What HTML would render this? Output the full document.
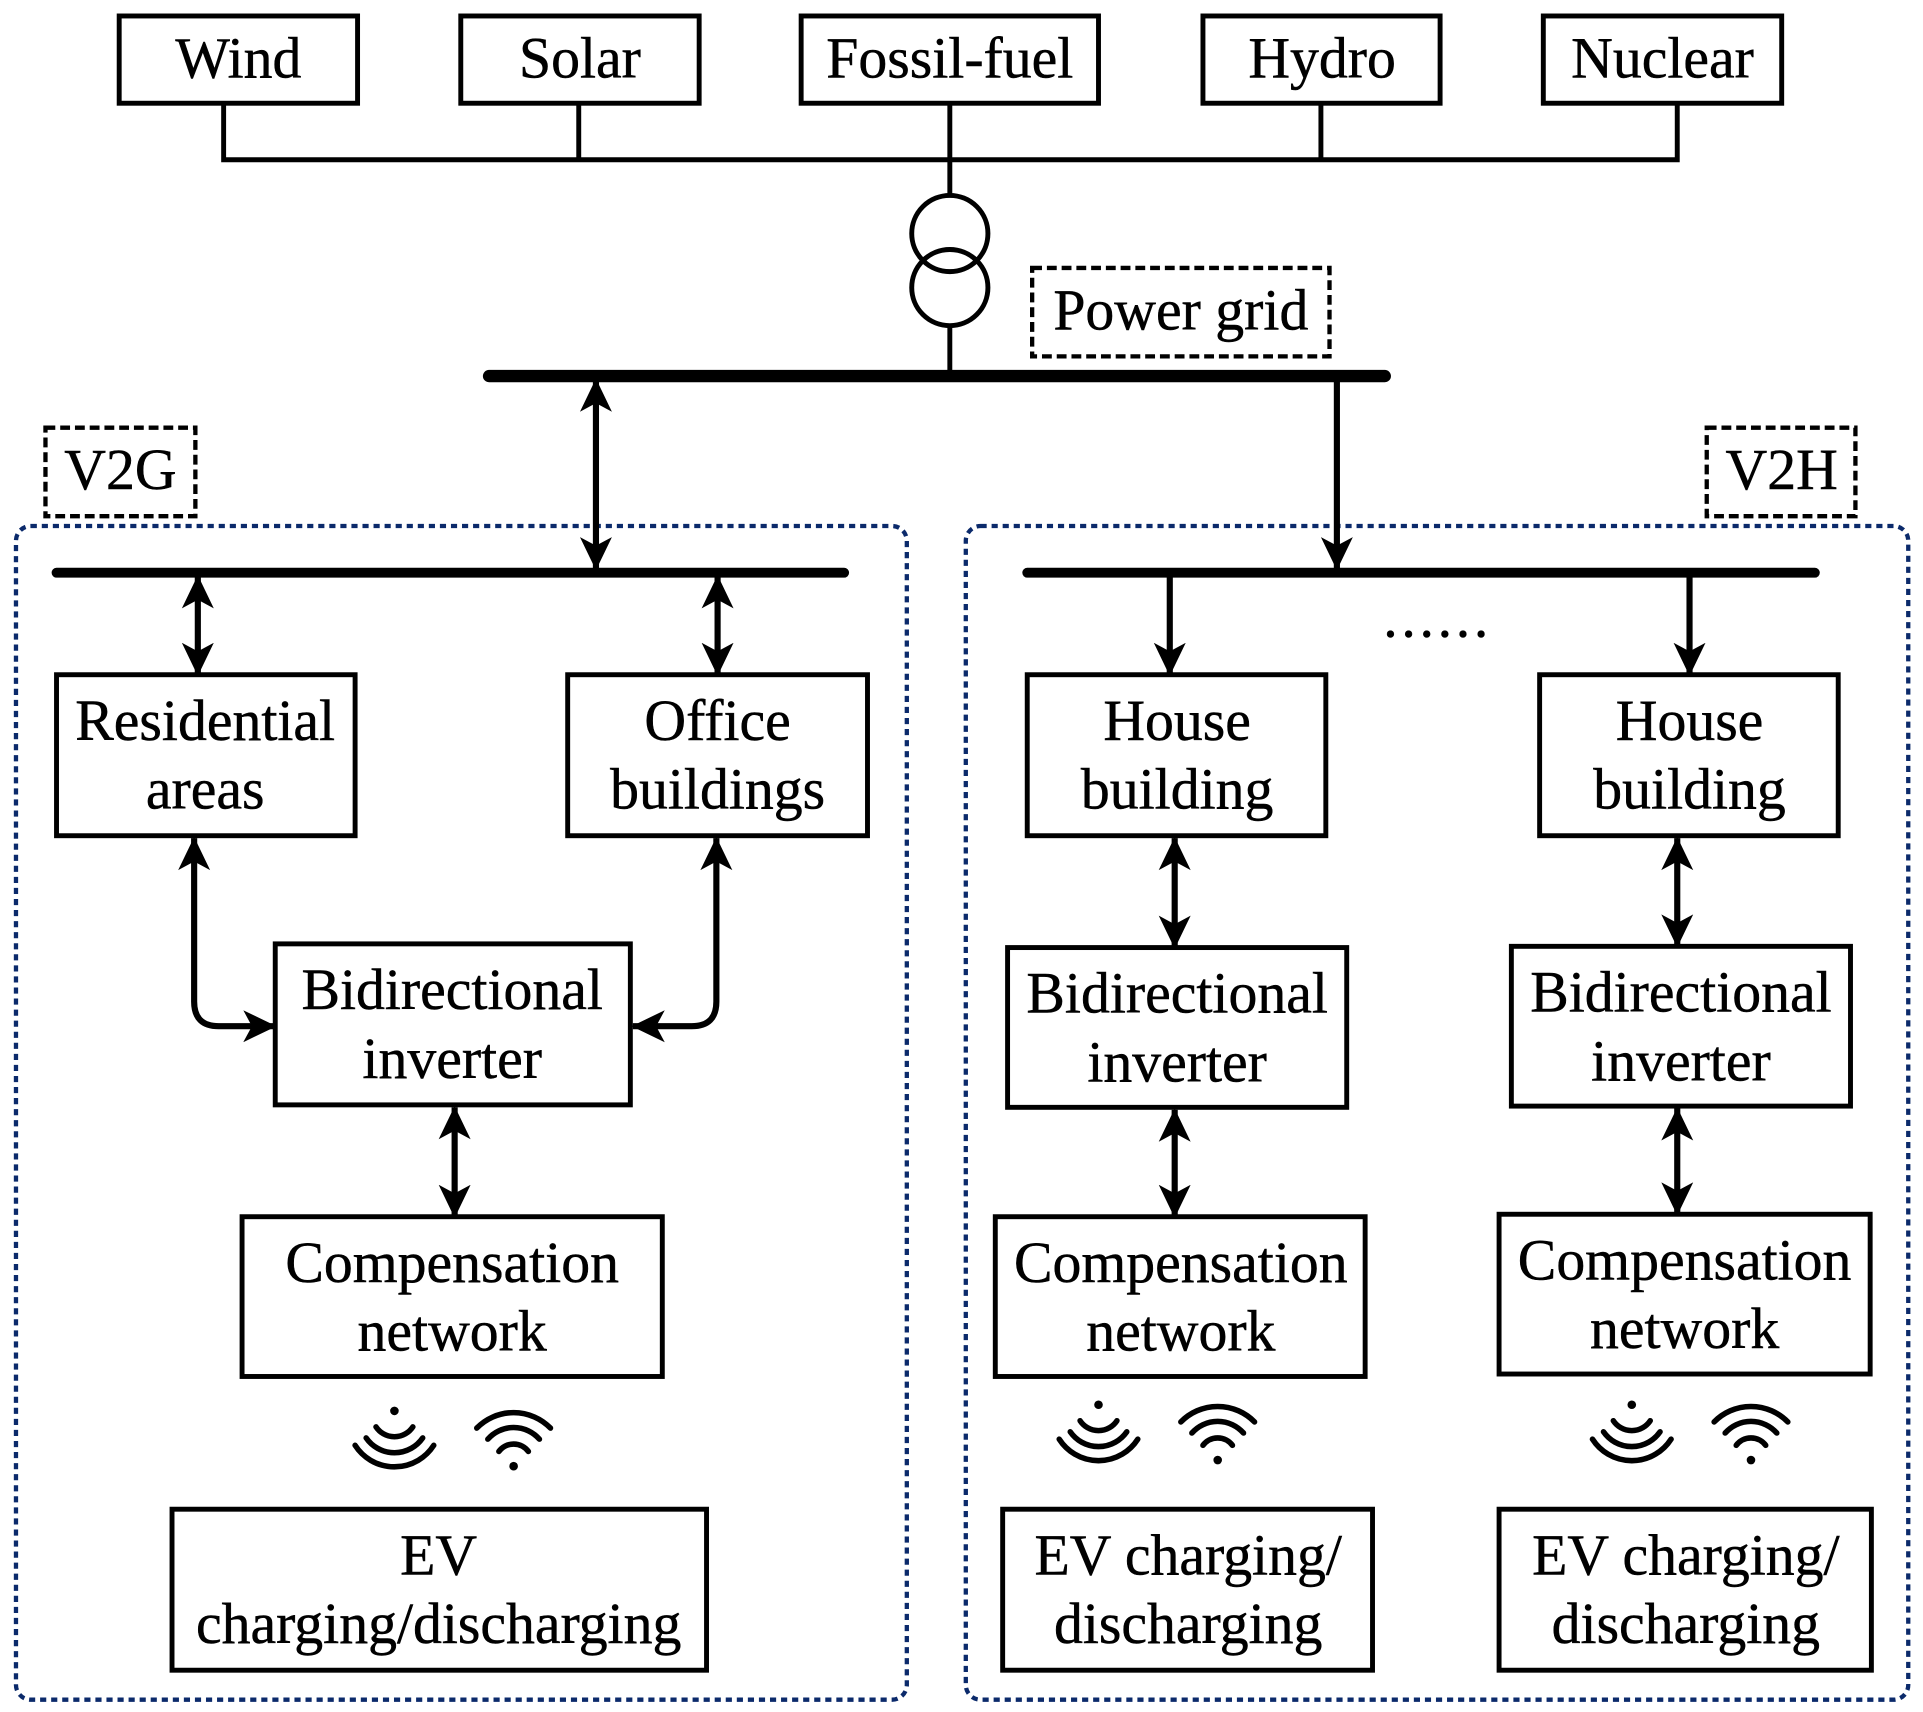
<!DOCTYPE html>
<html><head><meta charset="utf-8"><style>
html,body{margin:0;padding:0;background:#fff;}
svg{display:block}
text{font-family:"Liberation Serif","Times New Roman",serif;font-size:47px;fill:#000;text-anchor:middle;stroke:#000;stroke-width:0.4px}
</style></head><body>
<svg width="1923" height="1712" viewBox="0 0 1565 1393" preserveAspectRatio="none" xmlns="http://www.w3.org/2000/svg">
<defs>
<marker id="a" markerWidth="28" markerHeight="28" refX="26" refY="14" orient="auto" markerUnits="userSpaceOnUse">
<path d="M0,1 L27,14 L0,27 L7,14 Z" fill="#000"/>
</marker>
<marker id="s" markerWidth="28" markerHeight="28" refX="1" refY="14" orient="auto" markerUnits="userSpaceOnUse">
<path d="M27,1 L0,14 L27,27 L20,14 Z" fill="#000"/>
</marker>
</defs>
<g fill="none" stroke="#000" stroke-width="4">
<rect x="97" y="13" width="194" height="71"/>
<rect x="375" y="13" width="194" height="71"/>
<rect x="652" y="13" width="242" height="71"/>
<rect x="979" y="13" width="193" height="71"/>
<rect x="1256" y="13" width="194" height="71"/>
<path d="M182,84 V130 H1365 V84 M471,84 V130 M773,84 V159 M1075,84 V130" />
<circle cx="773" cy="190" r="31"/>
<circle cx="773" cy="234" r="31"/>
<path d="M773,265 V306"/>
<rect x="840" y="218" width="242" height="72" stroke-dasharray="8,4" stroke-width="3.5"/>
<rect x="37" y="348" width="122" height="72" stroke-dasharray="8,4" stroke-width="3.5"/>
<rect x="1389" y="348" width="121" height="72" stroke-dasharray="8,4" stroke-width="3.5"/>
<rect x="13" y="428" width="725" height="955" rx="12" stroke="#0b2a6b" stroke-width="3.5" stroke-dasharray="5,4"/>
<rect x="786" y="428" width="767" height="955" rx="12" stroke="#0b2a6b" stroke-width="3.5" stroke-dasharray="5,4"/>
<path d="M398,306 H1127" stroke-width="10" stroke-linecap="round"/>
<path d="M46,466 H687" stroke-width="8" stroke-linecap="round"/>
<path d="M836,466 H1477" stroke-width="8" stroke-linecap="round"/>
<g stroke-width="5">
<path d="M485,309 V463" marker-start="url(#s)" marker-end="url(#a)"/>
<path d="M1088,309 V463" marker-end="url(#a)"/>
<path d="M161,469 V549" marker-start="url(#s)" marker-end="url(#a)"/>
<path d="M584,469 V549" marker-start="url(#s)" marker-end="url(#a)"/>
<path d="M952,469 V549" marker-end="url(#a)"/>
<path d="M1375,469 V549" marker-end="url(#a)"/>
<path d="M158,682 V815 Q158,835 178,835 H224" marker-start="url(#s)" marker-end="url(#a)"/>
<path d="M583,682 V815 Q583,835 563,835 H515" marker-start="url(#s)" marker-end="url(#a)"/>
<path d="M370,901 V990" marker-start="url(#s)" marker-end="url(#a)"/>
<path d="M956,682 V771" marker-start="url(#s)" marker-end="url(#a)"/>
<path d="M1365,682 V770" marker-start="url(#s)" marker-end="url(#a)"/>
<path d="M956,903 V990" marker-start="url(#s)" marker-end="url(#a)"/>
<path d="M1365,902 V988" marker-start="url(#s)" marker-end="url(#a)"/>
</g>
<rect x="46" y="549" width="243" height="131"/>
<rect x="462" y="549" width="244" height="131"/>
<rect x="224" y="768" width="289" height="131"/>
<rect x="197" y="990" width="342" height="130"/>
<rect x="140" y="1228" width="435" height="131"/>
<rect x="836" y="549" width="243" height="131"/>
<rect x="1253" y="549" width="243" height="131"/>
<rect x="820" y="771" width="276" height="130"/>
<rect x="1230" y="770" width="276" height="130"/>
<rect x="810" y="990" width="301" height="130"/>
<rect x="1220" y="988" width="302" height="130"/>
<rect x="816" y="1228" width="301" height="131"/>
<rect x="1220" y="1228" width="303" height="131"/>
</g>
<g fill="none" stroke="#000" stroke-width="4.5" stroke-linecap="round">
<g id="r1" transform="translate(321,1148)">
<path d="M-15,13 A18,18 0 0 0 15,13"/>
<path d="M-23,22 A28,28 0 0 0 23,22"/>
<path d="M-32,28 A38,38 0 0 0 32,28"/>
</g>
<g transform="translate(418,1193)">
<path d="M-12,-12 A15,15 0 0 1 12,-12"/>
<path d="M-21,-22 A28,28 0 0 1 21,-22"/>
<path d="M-30,-31 A42,42 0 0 1 30,-31"/>
</g>
<use href="#r1" transform="translate(573,-5)"/>
<use href="#r1" transform="translate(1007,-5)"/>
<g transform="translate(991,1188)">
<path d="M-12,-12 A15,15 0 0 1 12,-12"/>
<path d="M-21,-22 A28,28 0 0 1 21,-22"/>
<path d="M-30,-31 A42,42 0 0 1 30,-31"/>
</g>
<g transform="translate(1425,1188)">
<path d="M-12,-12 A15,15 0 0 1 12,-12"/>
<path d="M-21,-22 A28,28 0 0 1 21,-22"/>
<path d="M-30,-31 A42,42 0 0 1 30,-31"/>
</g>
</g>
<g fill="#000">
<circle cx="321" cy="1148" r="3.5"/><circle cx="894" cy="1143" r="3.5"/><circle cx="1328" cy="1143" r="3.5"/>
<circle cx="418" cy="1193" r="3.5"/><circle cx="991" cy="1188" r="3.5"/><circle cx="1425" cy="1188" r="3.5"/>
</g>
<text x="194" y="63">Wind</text>
<text x="472" y="63">Solar</text>
<text x="773" y="63">Fossil-fuel</text>
<text x="1076" y="63">Hydro</text>
<text x="1353" y="63">Nuclear</text>
<text x="961" y="268">Power grid</text>
<text x="98" y="398">V2G</text>
<text x="1450" y="398">V2H</text>
<text x="1170" y="518" style="letter-spacing:3px">......</text>
<text x="167" y="602">Residential</text><text x="167" y="658">areas</text>
<text x="584" y="602">Office</text><text x="584" y="658">buildings</text>
<text x="368" y="821">Bidirectional</text><text x="368" y="877">inverter</text>
<text x="368" y="1043">Compensation</text><text x="368" y="1099">network</text>
<text x="357" y="1281">EV</text><text x="357" y="1337">charging/discharging</text>
<text x="958" y="602">House</text><text x="958" y="658">building</text>
<text x="1375" y="602">House</text><text x="1375" y="658">building</text>
<text x="958" y="824">Bidirectional</text><text x="958" y="880">inverter</text>
<text x="1368" y="823">Bidirectional</text><text x="1368" y="879">inverter</text>
<text x="961" y="1043">Compensation</text><text x="961" y="1099">network</text>
<text x="1371" y="1041">Compensation</text><text x="1371" y="1097">network</text>
<text x="967" y="1281">EV charging/</text><text x="967" y="1337">discharging</text>
<text x="1372" y="1281">EV charging/</text><text x="1372" y="1337">discharging</text>
</svg>
</body></html>
